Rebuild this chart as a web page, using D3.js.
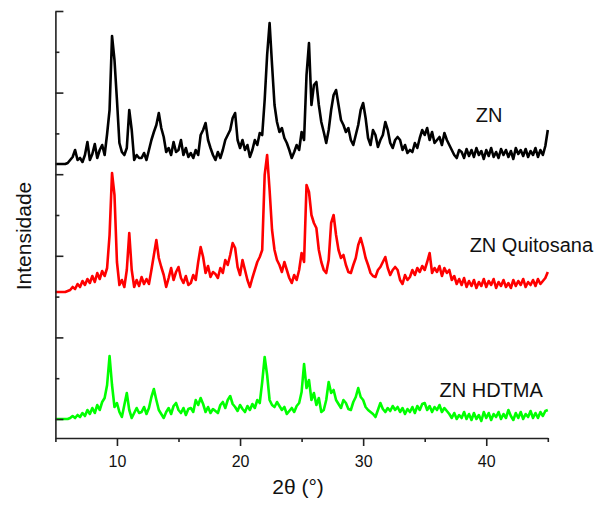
<!DOCTYPE html>
<html>
<head>
<meta charset="utf-8">
<script src="https://cdn.jsdelivr.net/npm/d3@7"></script>
<style>
  body { margin: 0; background: #fff; }
  text { font-family: "Liberation Sans", Arial, sans-serif; fill: #111; }
</style>
</head>
<body>
<div id="chart"></div>
<script>
// 2theta scan grid (degrees), one reading every 0.2 deg from 5 to 45
var twoTheta = d3.range(201).map(function(i) { return +(5 + i * 0.2).toFixed(1); });

var seriesNames = ["ZN", "ZN Quitosana", "ZN HDTMA"];
var seriesColors = ["#000000", "#ff0000", "#00ff00"];
// vertical offset of each pattern (stacked plot)
var seriesOffsets = [2550, 1270, 0];

// intensities above each pattern's own start level (a.u.)
var znCounts = [
  0,0,0,0,0,
  10,40,70,140,40,
  60,20,90,220,40,
  100,200,60,140,190,
  90,300,540,1280,1040,
  640,210,120,90,160,
  540,340,40,90,60,
  60,110,40,140,240,
  320,390,510,360,270,
  120,160,90,220,120,
  140,240,90,160,70,
  110,60,140,90,290,
  340,410,240,160,90,
  40,120,60,140,240,
  290,340,460,510,240,
  160,240,140,190,70,
  140,240,190,310,290,
  640,1090,1410,990,590,
  420,320,360,260,210,
  140,60,120,190,140,
  320,240,890,1210,590,
  790,820,590,420,320,
  210,340,540,690,740,
  590,440,390,320,360,
  240,190,290,390,540,
  610,460,260,190,340,
  290,170,240,290,420,
  340,210,160,240,270,
  240,140,190,110,140,
  120,210,160,260,340,
  290,360,240,320,210,
  240,270,190,310,240,
  190,140,90,60,140,
  120,60,150,80,140,
  70,160,90,130,50,
  140,80,160,70,120,
  60,150,90,140,70,
  130,50,160,100,140,
  80,150,70,130,90,
  160,70,140,90,180,
  340
];

var quitosanaCounts = [
  0,0,0,0,0,
  10,20,50,30,80,
  50,110,70,130,90,
  160,100,190,130,210,
  160,240,570,1190,970,
  300,70,120,50,220,
  590,220,50,120,60,
  150,80,130,80,220,
  370,520,340,250,170,
  50,140,240,120,200,
  250,140,90,160,70,
  90,170,120,300,450,
  350,190,260,150,200,
  180,140,240,190,320,
  270,370,490,440,250,
  170,320,220,120,50,
  140,220,300,350,420,
  1170,1370,1020,620,420,
  320,270,200,300,220,
  140,90,170,120,220,
  390,300,1070,1000,770,
  690,640,420,300,220,
  190,320,690,770,570,
  420,340,370,270,200,
  190,270,340,470,540,
  450,340,270,190,160,
  150,220,250,300,350,
  240,170,220,250,220,
  120,80,170,120,150,
  220,170,240,200,260,
  220,300,390,190,240,
  200,260,160,240,190,
  220,120,160,80,130,
  70,140,50,110,60,
  120,40,100,60,130,
  50,110,70,130,40,
  100,60,120,50,90,
  40,120,60,110,70,
  130,50,100,70,120,
  60,130,80,110,140,
  200
];

var hdtmaCounts = [
  0,0,0,0,0,
  0,10,30,10,40,
  20,60,30,90,50,
  110,60,140,90,170,
  210,340,630,340,120,
  160,70,20,140,260,
  90,10,60,110,60,
  70,120,50,110,220,
  300,190,90,50,10,
  70,110,50,130,160,
  90,60,110,40,100,
  110,70,190,140,210,
  150,70,120,60,100,
  80,60,140,170,110,
  190,230,150,120,80,
  140,100,70,130,90,
  150,110,190,160,370,
  620,440,190,140,120,
  170,130,90,120,50,
  80,110,70,130,160,
  270,550,310,390,190,
  260,140,210,70,90,
  190,370,260,290,190,
  150,110,190,160,100,
  90,170,220,310,220,
  190,120,90,70,50,
  20,90,160,100,70,
  110,80,130,90,120,
  70,110,50,100,70,
  120,60,130,90,150,
  160,90,130,70,120,
  90,140,70,110,80,
  50,10,60,0,40,
  10,70,0,50,-10,
  60,0,40,-20,70,
  10,60,-10,50,20,
  70,0,50,10,90,
  30,-10,60,10,70,
  0,50,20,80,10,
  60,10,70,30,80,
  90
];

var xTicks = [5, 10, 15, 20, 25, 30, 35, 40, 45];
var xTickLabels = ["", "10", "", "20", "", "30", "", "40", ""];
var yTicks = d3.range(0, 4081, 408);

var seriesData = [znCounts, quitosanaCounts, hdtmaCounts];

var width = 600, height = 506;

var svg = d3.select("#chart").append("svg")
    .attr("width", width)
    .attr("height", height);

// scales
var x = d3.scaleLinear().domain([5, 45]).range([55.4, 547.8]);
var y = d3.scaleLinear().domain([-190, 4080]).range([438, 11]);

// patterns
var line = d3.line()
    .x(function(d) { return x(d[0]); })
    .y(function(d) { return y(d[1]); });

seriesData.forEach(function(counts, k) {
    var pts = counts.map(function(c, i) { return [twoTheta[i], c + seriesOffsets[k]]; });
    svg.append("path")
        .datum(pts)
        .attr("fill", "none")
        .attr("stroke", seriesColors[k])
        .attr("stroke-width", 2.6)
        .attr("stroke-linejoin", "round")
        .attr("d", line);
});

// x axis (ticks outward, minor ticks shorter)
var xAxisG = svg.append("g")
    .attr("transform", "translate(0," + y(-190) + ")")
    .call(d3.axisBottom(x).tickValues(xTicks).tickSize(8).tickSizeOuter(0)
        .tickFormat(function(d, i) { return xTickLabels[i]; }));
xAxisG.select(".domain").attr("stroke", "#222").attr("stroke-width", 1.6);
xAxisG.selectAll(".tick line")
    .attr("stroke", "#222").attr("stroke-width", 1.6)
    .attr("y2", function(d, i) { return xTickLabels[i] ? 8 : 4; });
xAxisG.selectAll(".tick text")
    .attr("y", 18)
    .style("font-size", "16px")
    .style("font-family", "'Liberation Sans', Arial, sans-serif")
    .attr("fill", "#222");

// y axis (ticks inward, no labels)
var yAxisG = svg.append("g")
    .attr("transform", "translate(" + x(5) + ",0)")
    .call(d3.axisRight(y).tickValues(yTicks).tickSize(8).tickSizeOuter(0).tickFormat(""));
yAxisG.select(".domain").attr("stroke", "#222").attr("stroke-width", 1.6);
yAxisG.selectAll(".tick line")
    .attr("stroke", "#222").attr("stroke-width", 1.6)
    .attr("x2", function(d, i) { return i % 2 === 0 ? 8 : 4; });

// axis titles
svg.append("text")
    .attr("x", 298)
    .attr("y", 494)
    .attr("text-anchor", "middle")
    .style("font-size", "21px")
    .text("2\u03b8 (\u00b0)");

svg.append("text")
    .attr("text-anchor", "middle")
    .attr("transform", "translate(31,236) rotate(-90)")
    .style("font-size", "21px")
    .text("Intensidade");

// series labels
var labelPos = [[39.15, 2970], [38.65, 1670], [36.2, 220]];
seriesNames.forEach(function(name, k) {
    svg.append("text")
        .attr("x", x(labelPos[k][0]))
        .attr("y", y(labelPos[k][1]))
        .style("font-size", "20px")
        .text(name);
});
</script>
</body>
</html>
